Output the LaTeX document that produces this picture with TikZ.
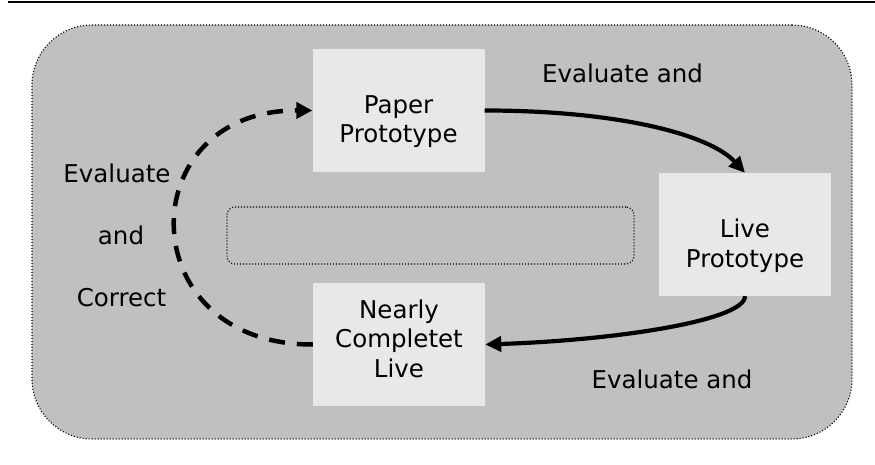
\documentclass[tikz,border=0pt]{standalone}
\usepackage{fontspec}
\setmainfont{DejaVu Sans}
\usetikzlibrary{arrows.meta}
\definecolor{outerfill}{HTML}{C0C0C0}
\definecolor{boxfill}{HTML}{E8E8E8}
\begin{document}
\begin{tikzpicture}[x=1pt,y=-1pt,
  txt/.style={font=\fontsize{24.5}{29.5}\selectfont, inner sep=0pt, anchor=base, align=center},
  stagebox/.style={rectangle, fill=boxfill, draw=none, minimum width=172pt, minimum height=123pt, inner sep=0pt},
  dotline/.style={draw=black, line width=1.1pt, dash pattern=on 1.1pt off 1.9pt},
  flow/.style={line width=4.2pt, -{Triangle[length=16pt,width=15pt]}},
  flowdash/.style={line width=4.5pt, dash pattern=on 16pt off 12pt, -{Triangle[length=16pt,width=16pt]}}]
\useasboundingbox (0,0) rectangle (875,465);
\coordinate (lineL) at (8,2.2);
\coordinate (lineR) at (875,2.2);
\draw[line width=2.6pt] (lineL) -- (lineR);
% outer panel
\node[dotline, fill=outerfill, rounded corners=60pt, rectangle, minimum width=820pt, minimum height=414pt, inner sep=0pt] (panel) at (442,232) {};
% inner dotted box
\node[dotline, rounded corners=8pt, rectangle, minimum width=407pt, minimum height=57pt, inner sep=0pt] (inner) at (430.5,235.5) {};
% stage boxes
\node[stagebox] (paper) at (398.5,110.5) {};
\node[stagebox] (live) at (745,234.5) {};
\node[stagebox] (nearly) at (399,344.5) {};
\node[txt] (papertxt) at (398.5,143) {Paper\\Prototype};
\node[txt] (livetxt) at (745,267) {Live\\Prototype};
\node[txt] (nearlytxt) at (399,377) {Nearly\\Completet\\Live};
% labels
\node[txt] (evtop) at (622.5,83) {Evaluate and};
\node[txt] (evbot) at (672,388) {Evaluate and};
\node[txt] (evl1) at (117,183) {Evaluate};
\node[txt] (evl2) at (121,244) {and};
\node[txt] (evl3) at (121.5,306) {Correct};
% connectors
\draw[flow] (paper.east) .. controls (620,110.5) and (710,135) .. (live.north);
\draw[flow] (live.south) .. controls (745,320) and (620,340) .. (nearly.east);
\draw[flowdash] (nearly.west) .. controls (130,345) and (130,110) .. (paper.west);
\end{tikzpicture}
\end{document}
